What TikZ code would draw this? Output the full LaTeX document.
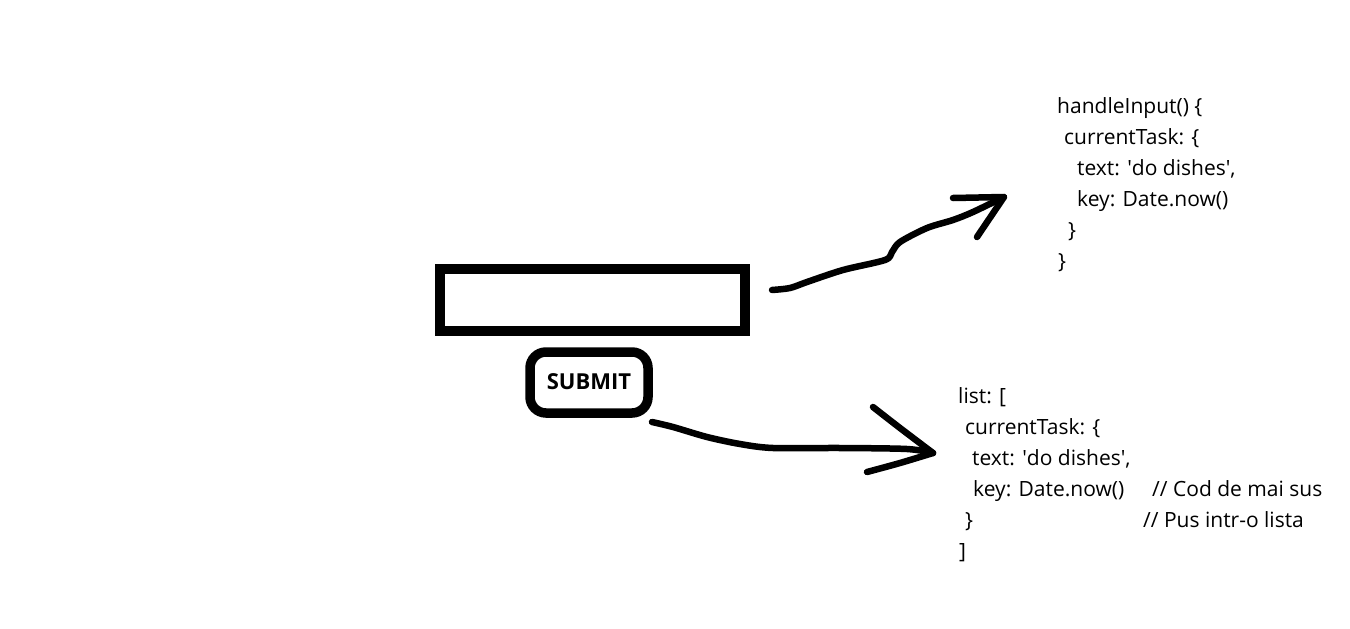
\documentclass[tikz,border=0pt]{standalone}
\usepackage{fontspec}
\setmainfont{Open Sans}
\begin{document}
\begin{tikzpicture}[x=1pt,y=-1pt]
    \tikzstyle{hand} = [line width = 6.5pt, line cap = round, line join = round]
    \tikzstyle{field} = [rectangle, draw = black, line width = 10pt, minimum width = 305pt, minimum height = 62pt]
    \tikzstyle{button} = [rectangle, rounded corners = 16pt, draw = black, line width = 9.5pt, minimum width = 118pt, minimum height = 61pt, font = \fontsize{22}{26}\selectfont\bfseries]
    \tikzstyle{code} = [anchor = north west, align = left, inner sep = 0pt, font = \fontsize{21}{31}\selectfont]
    \useasboundingbox (0,0) rectangle (1350,629);

    \node[field](field) at (592.5,300){};
    \node[button](submit) at (589,382.5){\raisebox{1.5pt}{SUBMIT}};
    \node[code](handler) at (1057,97){handleInput() \{\\
        \hspace{7pt}currentTask: \{\\
        \hspace{20pt}text: \textquotesingle do dishes\textquotesingle,\\
        \hspace{20pt}key: Date.now()\\
        \hspace{11pt}\}\\
        \hspace{1pt}\}};
    \node[code](list) at (958,387){list: [\\
        \hspace{7pt}currentTask: \{\\
        \hspace{14pt}text: \textquotesingle do dishes\textquotesingle,\\
        \hspace{15pt}\makebox[179pt][l]{key: Date.now()}// Cod de mai sus\\
        \hspace{7pt}\makebox[178pt][l]{\}}// Pus intr-o lista\\
        \hspace{1pt}]};

    % arrow from the input field to handleInput
    \coordinate (s1) at (772,290);
    \coordinate (t1) at (1004,197);
    \draw[hand] plot[smooth, tension = 0.5] coordinates {(s1) (790,288) (807,282) (843,270) (885,260) (892,252) (900,242) (927,228) (953,220) (973,212) (t1)};
    \draw[hand] (953,198) -- (t1) -- (977,237);

    % arrow from the button to the list
    \coordinate (s2) at (652,422);
    \coordinate (t2) at (933,453);
    \draw[hand] plot[smooth, tension = 0.5] coordinates {(s2) (673,427) (707,437) (740,444) (773,448) (840,448) (907,449) (t2)};
    \draw[hand] plot[smooth, tension = 0.5] coordinates {(873,407) (900,428) (t2)};
    \draw[hand] plot[smooth, tension = 0.5] coordinates {(t2) (900,463) (867,472)};
\end{tikzpicture}
\end{document}
